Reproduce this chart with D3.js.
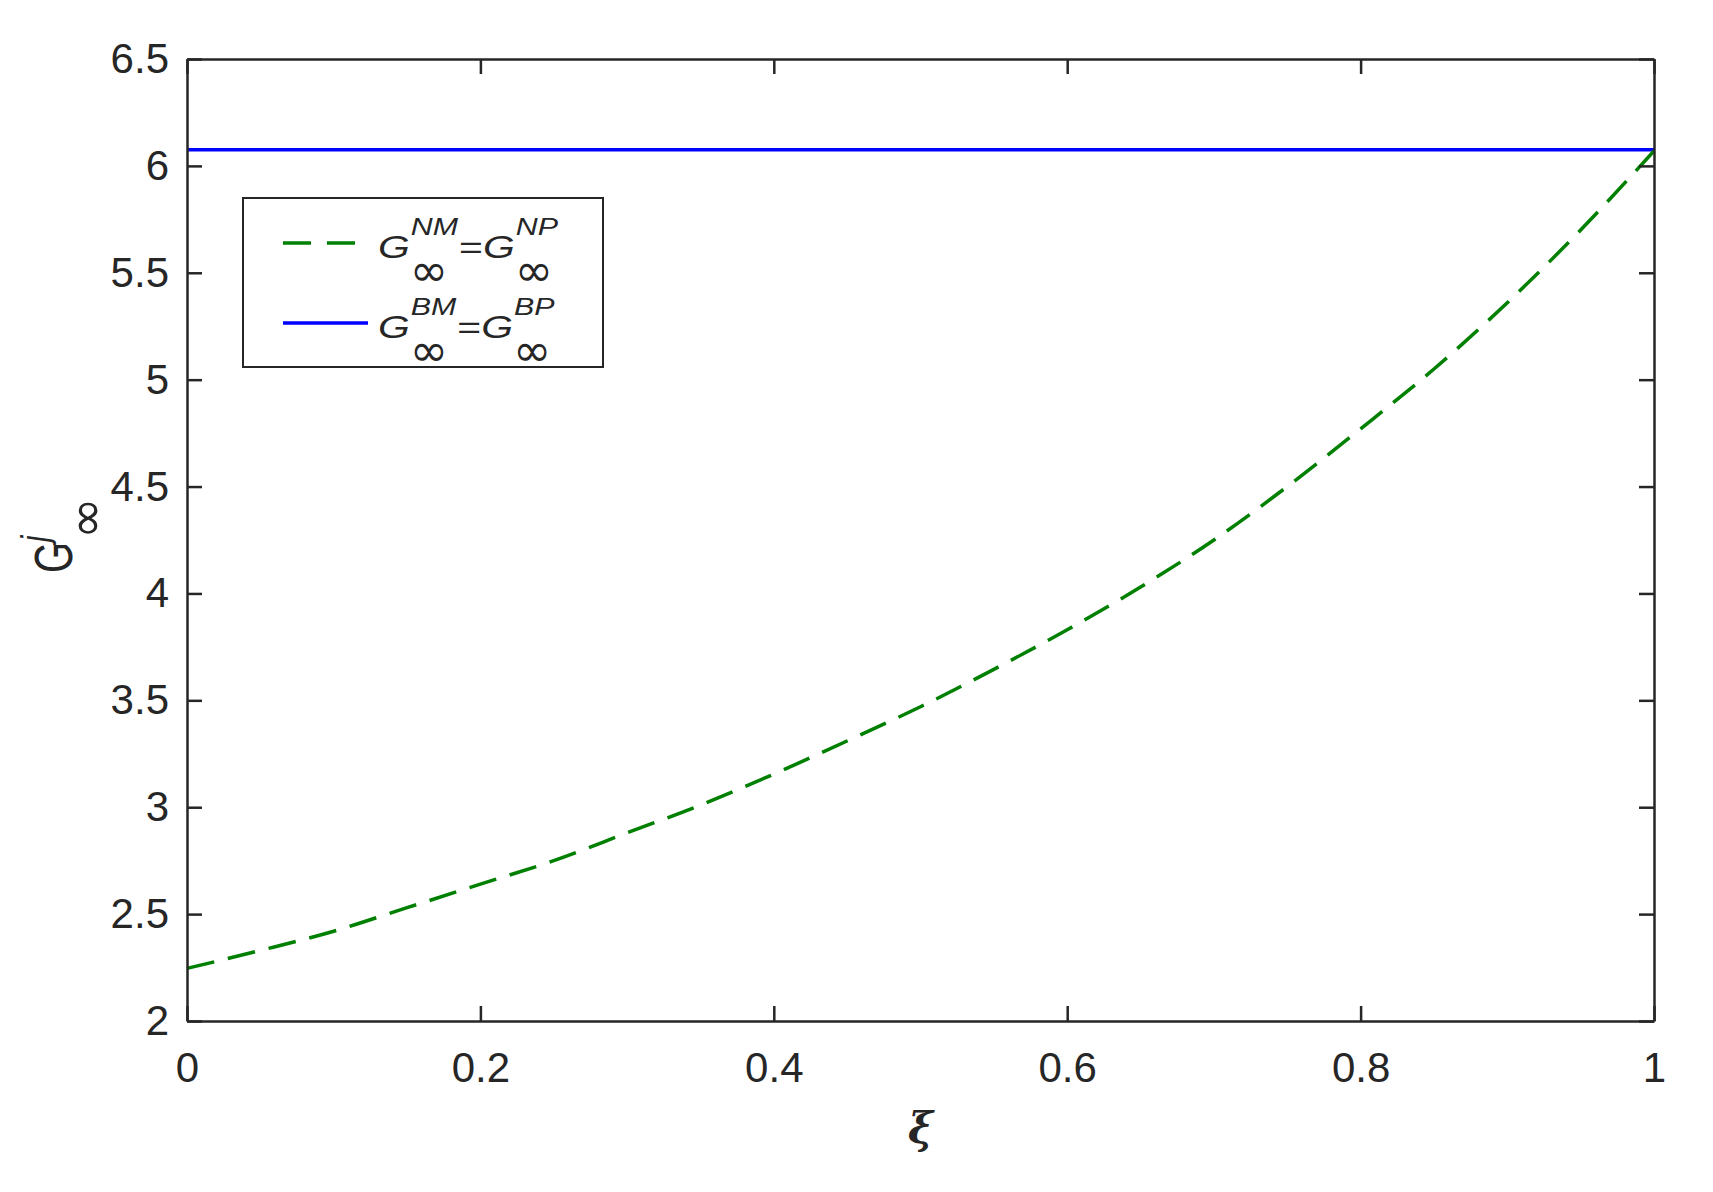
<!DOCTYPE html>
<html>
<head>
<meta charset="utf-8">
<script src="https://cdn.jsdelivr.net/npm/d3@7"></script>
<style>
body { margin: 0; background: #fff; }
text { font-family: "Liberation Sans", Arial, sans-serif; fill: #262626; }
</style>
</head>
<body>
<script>
// values
const xi = [0, 0.05, 0.1, 0.15, 0.2, 0.25, 0.3, 0.35, 0.4, 0.45, 0.5,
            0.55, 0.6, 0.65, 0.7, 0.75, 0.8, 0.85, 0.9, 0.95, 1];
const gNM = [2.246, 2.33, 2.42, 2.53, 2.64, 2.75, 2.88, 3.01, 3.155, 3.31, 3.47,
             3.645, 3.83, 4.03, 4.25, 4.50, 4.77, 5.05, 5.36, 5.70, 6.07];
const xiBM = [0, 1];
const gBM = [6.075, 6.075];
const xTicks = [0, 0.2, 0.4, 0.6, 0.8, 1];
const yTicks = [2, 2.5, 3, 3.5, 4, 4.5, 5, 5.5, 6, 6.5];
const legendBase = ["G", "G"];
const legendSup = [["NM", "NP"], ["BM", "BP"]];

const W = 1713, H = 1192;
const margin = { top: 59, right: 59, bottom: 171, left: 187 };
const w = W - margin.left - margin.right,
    h = H - margin.top - margin.bottom;

const svg = d3.select("body").append("svg")
    .attr("width", W)
    .attr("height", H);

const g = svg.append("g")
    .attr("transform", "translate(" + margin.left + "," + margin.top + ")");

const x = d3.scaleLinear().domain([0, 1]).range([0, w]);
const y = d3.scaleLinear().domain([2, 6.5]).range([h, 0]);

// curves
const line = d3.line()
    .x(function (d) { return x(d[0]); })
    .y(function (d) { return y(d[1]); })
    .curve(d3.curveMonotoneX);

g.append("path")
    .datum(xiBM.map(function (d, i) { return [d, gBM[i]]; }))
    .attr("d", line)
    .attr("fill", "none")
    .attr("stroke", "#0000ff")
    .attr("stroke-width", 3.5);

g.append("path")
    .datum(xi.map(function (d, i) { return [d, gNM[i]]; }))
    .attr("d", line)
    .attr("fill", "none")
    .attr("stroke", "#008000")
    .attr("stroke-width", 3.5)
    .attr("stroke-dasharray", "28,14");

// axes, ticks pointing inward on all four sides
function style(a) {
    a.select(".domain").attr("stroke", "#262626").attr("stroke-width", 2.5);
    a.selectAll(".tick line").attr("stroke", "#262626").attr("stroke-width", 2.5);
    a.selectAll(".tick text").attr("font-size", 42).attr("fill", "#262626")
        .attr("font-family", '"Liberation Sans", Arial, sans-serif');
}

g.append("g")
    .attr("transform", "translate(0," + h + ")")
    .call(d3.axisBottom(x).tickValues(xTicks).tickFormat(d3.format("")).tickSizeInner(-15).tickSizeOuter(0).tickPadding(31))
    .call(style);

g.append("g")
    .call(d3.axisLeft(y).tickValues(yTicks).tickFormat(d3.format("")).tickSizeInner(-15).tickSizeOuter(0).tickPadding(18))
    .call(style);

g.append("g")
    .call(d3.axisTop(x).tickValues(xTicks).tickFormat("").tickSizeInner(-15).tickSizeOuter(0))
    .call(style);

g.append("g")
    .attr("transform", "translate(" + w + ",0)")
    .call(d3.axisRight(y).tickValues(yTicks).tickFormat("").tickSizeInner(-15).tickSizeOuter(0))
    .call(style);

// one piece of text, stretched by sx / sy like the original's TeX output
function put(sel, x0, y0, txt, size, sx, sy, fstyle, family) {
    const t = sel.append("text")
        .attr("transform", "translate(" + x0 + "," + y0 + ") scale(" + sx + "," + sy + ")")
        .attr("font-size", size)
        .attr("font-style", fstyle)
        .text(txt);
    if (family) t.style("font-family", family);
    return t;
}

// base letter with a superscript and a subscript stacked after it
function term(sel, x0, y0, base, sup, sub, s) {
    const b = put(sel, x0, y0, base, s.base, s.sx, s.sy, s.baseStyle);
    const bw = b.node().getComputedTextLength() * s.sx;
    const p = put(sel, x0 + bw + s.supDx, y0 - s.supUp, sup, s.sup, s.sx, s.sy, "italic");
    const q = put(sel, x0 + bw + s.subDx, y0 + s.subDown, sub, s.sub, 1, 1, "normal",
        '"DejaVu Sans", sans-serif');
    return x0 + bw + Math.max(s.supDx + p.node().getComputedTextLength() * s.sx,
        s.subDx + q.node().getComputedTextLength());
}

// axis labels
svg.append("text")
    .attr("x", margin.left + w / 2)
    .attr("y", 1143)
    .attr("text-anchor", "middle")
    .attr("font-size", 42)
    .attr("font-style", "italic")
    .attr("font-weight", "bold")
    .style("font-family", '"DejaVu Serif", serif')
    .text("ξ");

const yl = svg.append("g").attr("transform", "translate(72,573) rotate(-90)");
term(yl, 0, 0, "G", "j", "∞",
    { base: 40, baseStyle: "normal", sup: 29, sub: 50, sx: 1, sy: 1.35,
      supDx: 0, supUp: 24, subDx: 3, subDown: 31 });

// legend
const lg = svg.append("g");
lg.append("rect")
    .attr("x", 243).attr("y", 198)
    .attr("width", 360).attr("height", 169)
    .attr("fill", "#fff")
    .attr("stroke", "#262626")
    .attr("stroke-width", 2);

const legendStroke = [["#008000", "28,16"], ["#0000ff", null]];
const rowY = [243, 323];
const baseY = [258, 338];
const ls = { base: 31, baseStyle: "italic", sup: 23, sub: 46, sx: 1.32, sy: 1,
             supDx: 1, supUp: 23, subDx: 0, subDown: 28 };

legendBase.forEach(function (b, i) {
    lg.append("line")
        .attr("x1", 283).attr("x2", 368)
        .attr("y1", rowY[i]).attr("y2", rowY[i])
        .attr("stroke", legendStroke[i][0])
        .attr("stroke-width", 3.5)
        .attr("stroke-dasharray", legendStroke[i][1]);
    let cx = term(lg, 378, baseY[i], b, legendSup[i][0], "∞", ls);
    const eq = put(lg, cx + 1, baseY[i], "=", 31, 1.32, 1, "normal");
    cx += 1 + eq.node().getComputedTextLength() * 1.32;
    term(lg, cx, baseY[i], b, legendSup[i][1], "∞", ls);
});
</script>
</body>
</html>
